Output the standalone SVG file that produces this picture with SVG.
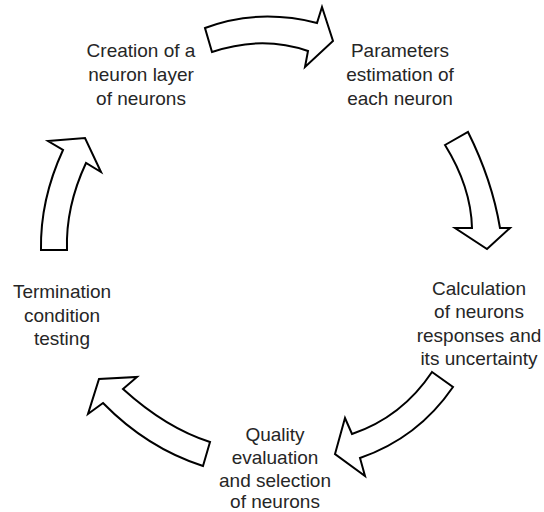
<svg xmlns="http://www.w3.org/2000/svg" width="544" height="512" viewBox="0 0 544 512">
<style>
.lbl{font-family:"Liberation Sans",Arial,sans-serif;font-size:19px;fill:#262626;text-anchor:middle}
.arr{fill:#ffffff;stroke:#000000;stroke-width:2;stroke-linejoin:miter}
</style>
<rect width="544" height="512" fill="#ffffff"/>
<g id="connectors">
<path class="arr" d="M205,28 Q258,8 317,23 L322,7 L333,41 L305,67 L308,51 Q262,35 212,52 Z"/>
<path class="arr" d="M445,145 L468,132 Q492,180 500,228 L510,228 L487,249 L455,228 L472,228 Q471,187 445,145 Z"/>
<path class="arr" d="M432,372 L453,387 Q418,438 360,458 L365,476 L335,454 L345,418 L352,434 Q402,417 432,372 Z"/>
<path class="arr" d="M210,442 L203,466 Q147,448 103,403 L88,414 L99,379 L137,377 L123,389 Q166,428 210,442 Z"/>
<path class="arr" d="M41,250 Q40,200 63,150 L48,141 L85,138 L101,172 L86,163 Q65.5,207 67,250 Z"/>
</g>
<g id="node-creation">
<text class="lbl" x="141" y="57">Creation of a</text>
<text class="lbl" x="141" y="81">neuron layer</text>
<text class="lbl" x="141" y="105">of neurons</text>
</g>
<g id="node-parameters">
<text class="lbl" x="400" y="57">Parameters</text>
<text class="lbl" x="400" y="81">estimation of</text>
<text class="lbl" x="400" y="105">each neuron</text>
</g>
<g id="node-calculation">
<text class="lbl" x="479" y="295">Calculation</text>
<text class="lbl" x="479" y="318">of neurons</text>
<text class="lbl" x="479" y="342">responses and</text>
<text class="lbl" x="479" y="365">its uncertainty</text>
</g>
<g id="node-quality">
<text class="lbl" x="275" y="441">Quality</text>
<text class="lbl" x="275" y="464">evaluation</text>
<text class="lbl" x="275" y="487">and selection</text>
<text class="lbl" x="275" y="508">of neurons</text>
</g>
<g id="node-termination">
<text class="lbl" x="62" y="298">Termination</text>
<text class="lbl" x="62" y="322">condition</text>
<text class="lbl" x="62" y="345">testing</text>
</g>
</svg>
